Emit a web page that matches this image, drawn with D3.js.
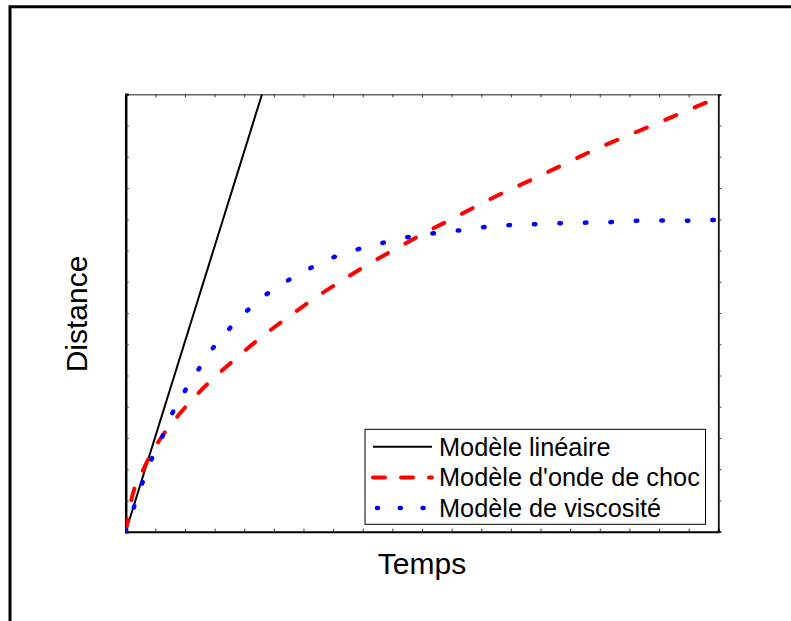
<!DOCTYPE html>
<html>
<head>
<meta charset="utf-8">
<script src="https://cdn.jsdelivr.net/npm/d3@7/dist/d3.min.js"></script>
<style>
  html, body { margin: 0; padding: 0; background: #fff; }
  svg { display: block; }
  text { font-family: "Liberation Sans", Arial, Helvetica, sans-serif; fill: #000; }
</style>
</head>
<body>
<script>
// ---- data ----
const xLabel = "Temps";
const yLabel = "Distance";
const seriesNames = ["Modèle linéaire", "Modèle d'onde de choc", "Modèle de viscosité"];

const linearT = [0, 4.6];
const linearD = [0, 14];

const shockT = [0, 0.2, 0.6, 1.1, 1.8, 2.6, 3.6, 4.5, 5.5, 6.5, 7.4, 8.3, 9.3, 10.2, 11.2, 12.1, 14, 16, 17, 18, 19, 20];
const shockD = [0, 1.05, 2.0, 2.87, 3.75, 4.58, 5.45, 6.17, 6.88, 7.55, 8.1, 8.62, 9.15, 9.62, 10.1, 10.55, 11.4, 12.3, 12.7, 13.1, 13.5, 13.9];

const viscT = [0, 0.28, 0.55, 0.85, 1.23, 1.56, 2.0, 2.51, 3.05, 3.76, 4.47, 5.28, 6.06, 6.87, 7.65, 8.42, 9.2, 9.98, 10.79, 11.56, 12.37, 13.15, 13.99, 14.8, 16.4, 17.2, 18.0, 18.76, 19.54, 20];
const viscD = [0, 0.79, 1.53, 2.27, 3.03, 3.77, 4.51, 5.27, 6.01, 6.75, 7.39, 7.93, 8.35, 8.73, 8.99, 9.18, 9.37, 9.5, 9.59, 9.68, 9.78, 9.82, 9.85, 9.88, 9.91, 9.95, 9.96, 9.95, 9.98, 9.98];

const xDomain = [0, 20];
const yDomain = [0, 14];
const xTickCount = 20;
const yTickCount = 14;

// ---- layout ----
const W = 791, H = 621;
const plot = { left: 125.7, top: 94.3, right: 718.3, bottom: 531.7 };

const svg = d3.select("body").append("svg").attr("width", W).attr("height", H);

// figure frame (cut off at right/bottom)
svg.append("path")
  .attr("d", d3.line()([[10, H + 10], [10, 6.8], [W + 10, 6.8]]))
  .attr("fill", "none").attr("stroke", "#000").attr("stroke-width", 3);

const x = d3.scaleLinear().domain(xDomain).range([plot.left, plot.right]);
const y = d3.scaleLinear().domain(yDomain).range([plot.bottom, plot.top]);

svg.append("defs").append("clipPath").attr("id", "clip")
  .append("rect").attr("x", plot.left).attr("y", plot.top)
  .attr("width", plot.right - plot.left).attr("height", plot.bottom - plot.top);

// axes (ticks inward, no labels)
const tick = 3;
svg.append("g").attr("transform", `translate(0,${plot.top})`)
  .call(d3.axisTop(x).ticks(xTickCount).tickSize(-tick).tickFormat(""))
  .call(g => g.select(".domain").attr("stroke", "#666").attr("stroke-width", 1.5))
  .call(g => g.selectAll(".tick line").attr("stroke", "#333"));
svg.append("g").attr("transform", `translate(0,${plot.bottom})`)
  .call(d3.axisBottom(x).ticks(xTickCount).tickSize(-tick).tickFormat(""))
  .call(g => g.select(".domain").attr("stroke", "#000").attr("stroke-width", 2))
  .call(g => g.selectAll(".tick line").attr("stroke", "#333"));
svg.append("g").attr("transform", `translate(${plot.left},0)`)
  .call(d3.axisLeft(y).ticks(yTickCount).tickSize(-tick).tickFormat(""))
  .call(g => g.select(".domain").attr("stroke", "#000").attr("stroke-width", 2.5))
  .call(g => g.selectAll(".tick line").attr("stroke", "#333"));
svg.append("g").attr("transform", `translate(${plot.right},0)`)
  .call(d3.axisRight(y).ticks(yTickCount).tickSize(tick).tickFormat(""))
  .call(g => g.select(".domain").attr("stroke", "#111").attr("stroke-width", 1.8))
  .call(g => g.selectAll(".tick line").attr("stroke", "#333"));
svg.selectAll(".domain").attr("fill", "none");

// series
const zip = (a, b) => a.map((v, i) => [v, b[i]]);
const line = d3.line().x(d => x(d[0])).y(d => y(d[1])).curve(d3.curveMonotoneX);
const lines = svg.append("g").attr("clip-path", "url(#clip)");

lines.append("path").datum(zip(linearT, linearD))
  .attr("d", d3.line().x(d => x(d[0])).y(d => y(d[1])))
  .attr("fill", "none").attr("stroke", "#000").attr("stroke-width", 2);

lines.append("path").datum(zip(shockT, shockD))
  .attr("d", line)
  .attr("fill", "none").attr("stroke", "#ff0000").attr("stroke-width", 4)
  .attr("stroke-linecap", "round").attr("stroke-dasharray", "12,20");

lines.append("path").datum(zip(viscT, viscD))
  .attr("d", line)
  .attr("fill", "none").attr("stroke", "#0000ff").attr("stroke-width", 4.5)
  .attr("stroke-linecap", "round").attr("stroke-dasharray", "1.5,24");

// axis labels
svg.append("text").attr("x", 422).attr("y", 574).attr("text-anchor", "middle")
  .style("font-size", "30px").text(xLabel);
svg.append("text").attr("transform", "translate(87,314) rotate(-90)").attr("text-anchor", "middle")
  .style("font-size", "30px").text(yLabel);

// legend
const lg = svg.append("g");
lg.append("rect").attr("x", 365).attr("y", 429.3).attr("width", 340.5).attr("height", 95)
  .attr("fill", "#fff").attr("stroke", "#000").attr("stroke-width", 1);
const rowY = [446.7, 477.5, 508];
const styles = [
  { color: "#000", width: 2, dash: null, cap: "butt" },
  { color: "#ff0000", width: 4, dash: "12,16", cap: "round" },
  { color: "#0000ff", width: 4.5, dash: "1,21.8", cap: "round" }
];
seriesNames.forEach((name, i) => {
  const s = styles[i];
  const p = lg.append("path")
    .attr("d", d3.line()([[i === 2 ? 377 : 373, rowY[i]], [432, rowY[i]]]))
    .attr("stroke", s.color).attr("stroke-width", s.width).attr("fill", "none")
    .attr("stroke-linecap", s.cap);
  if (s.dash) p.attr("stroke-dasharray", s.dash);
  lg.append("text").attr("x", 439).attr("y", rowY[i] + 8.8)
    .style("font-size", "25.3px").text(name);
});
</script>
</body>
</html>
